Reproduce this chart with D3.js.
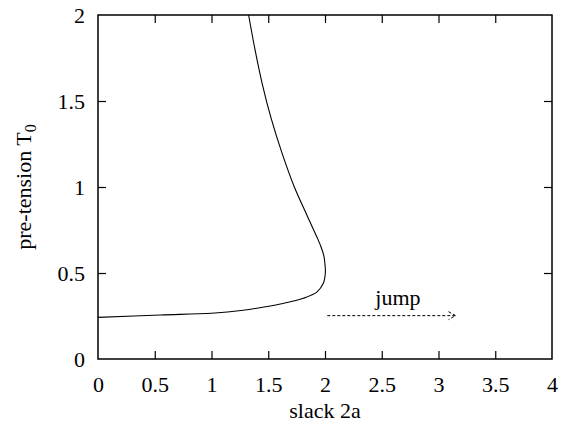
<!DOCTYPE html>
<html>
<head>
<meta charset="utf-8">
<script src="https://cdn.jsdelivr.net/npm/d3@7"></script>
<style>
  body { margin: 0; background: #fff; }
  svg text { font-family: "Liberation Serif", "Times New Roman", "DejaVu Serif", serif !important; fill: #000; }
</style>
</head>
<body>
<div id="wrapper"></div>
<script>
// curve: slack 2a vs pre-tension T0
const slackVals   = [0, 0.55, 1.0, 1.28, 1.40, 1.606, 1.81, 1.93, 1.985, 2.003, 2.0, 1.99, 1.966, 1.935, 1.845, 1.73, 1.62, 1.525, 1.447, 1.383, 1.327]
const tensionVals = [0.242, 0.256, 0.266, 0.283, 0.295, 0.32, 0.353, 0.39, 0.44, 0.50, 0.55, 0.60, 0.65, 0.70, 0.83, 1.0, 1.2, 1.4, 1.6, 1.8, 2.0]

const xTicks = [0, 0.5, 1, 1.5, 2, 2.5, 3, 3.5, 4]
const yTicks = [0, 0.5, 1, 1.5, 2]

// jump arrow
const jumpFrom = [2.02, 0.252]
const jumpTo = [3.15, 0.252]
const jumpLabel = { x: 2.643, y: 0.315, text: "jump" }

const xAxisLabelText = "slack 2a"

/* dimensions */
let dimensions = {
    width: 571,
    height: 431,
    margin: { top: 15, right: 19, bottom: 72, left: 98 },
}
dimensions.boundedWidth = dimensions.width - dimensions.margin.left - dimensions.margin.right
dimensions.boundedHeight = dimensions.height - dimensions.margin.top - dimensions.margin.bottom

const wrapper = d3.select("#wrapper")
    .append("svg")
    .attr("width", dimensions.width)
    .attr("height", dimensions.height)

const bounds = wrapper.append("g")
    .attr("transform", `translate(${dimensions.margin.left},${dimensions.margin.top})`)

/* scales */
const xScale = d3.scaleLinear()
    .domain([0, 4])
    .range([0, dimensions.boundedWidth])

const yScale = d3.scaleLinear()
    .domain([0, 2])
    .range([dimensions.boundedHeight, 0])

/* data */
const points = slackVals.map((s, i) => [s, tensionVals[i]])

const lineGenerator = d3.line()
    .x(d => xScale(d[0]))
    .y(d => yScale(d[1]))
    .curve(d3.curveCatmullRom.alpha(0.5))

bounds.append("path")
    .datum(points)
    .attr("d", lineGenerator)
    .attr("fill", "none")
    .attr("stroke", "#000")
    .attr("stroke-width", 1.1)

// jump arrow (dashed, open head)
const ax1 = xScale(jumpFrom[0]), ay = yScale(jumpFrom[1]), ax2 = xScale(jumpTo[0])
bounds.append("line")
    .attr("x1", ax1).attr("y1", ay)
    .attr("x2", ax2).attr("y2", ay)
    .attr("stroke", "#000")
    .attr("stroke-width", 1)
    .attr("stroke-dasharray", "3,2")
bounds.append("path")
    .attr("d", `M${ax2 - 7},${ay - 4}L${ax2},${ay}L${ax2 - 7},${ay + 4}`)
    .attr("fill", "none")
    .attr("stroke", "#000")
    .attr("stroke-width", 1)
    .attr("stroke-dasharray", "3,2")

bounds.append("text")
    .attr("x", xScale(jumpLabel.x))
    .attr("y", yScale(jumpLabel.y))
    .attr("text-anchor", "middle")
    .style("font-size", "22px")
    .text(jumpLabel.text)

/* axes: ticks inward on all four sides */
const fmt = d => String(d)

const xAxisBottom = bounds.append("g")
    .attr("transform", `translate(0,${dimensions.boundedHeight})`)
    .call(d3.axisBottom(xScale).tickValues(xTicks).tickFormat(fmt).tickSizeInner(-8).tickSizeOuter(0).tickPadding(17))
const xAxisTop = bounds.append("g")
    .call(d3.axisTop(xScale).tickValues(xTicks).tickFormat("").tickSizeInner(-8).tickSizeOuter(0))
const yAxisLeft = bounds.append("g")
    .call(d3.axisLeft(yScale).tickValues(yTicks).tickFormat(fmt).tickSizeInner(-8).tickSizeOuter(0).tickPadding(13))
const yAxisRight = bounds.append("g")
    .attr("transform", `translate(${dimensions.boundedWidth},0)`)
    .call(d3.axisRight(yScale).tickValues(yTicks).tickFormat("").tickSizeInner(-8).tickSizeOuter(0))

bounds.selectAll("g").attr("font-family", null)
bounds.selectAll(".domain").remove()
bounds.selectAll(".tick line").attr("stroke", "#000").attr("stroke-width", 1.2)
bounds.selectAll(".tick text")
    .style("font-size", "22px")
    .attr("fill", "#000")

// hide end ticks that coincide with the frame
xAxisBottom.selectAll(".tick line").filter(d => d === 0 || d === 4).remove()
xAxisTop.selectAll(".tick line").filter(d => d === 0 || d === 4).remove()
yAxisLeft.selectAll(".tick line").filter(d => d === 0 || d === 2).remove()
yAxisRight.selectAll(".tick line").filter(d => d === 0 || d === 2).remove()

// frame
bounds.append("rect")
    .attr("width", dimensions.boundedWidth)
    .attr("height", dimensions.boundedHeight)
    .attr("fill", "none")
    .attr("stroke", "#000")
    .attr("stroke-width", 1.5)

/* labels */
bounds.append("text")
    .attr("x", dimensions.boundedWidth / 2)
    .attr("y", dimensions.boundedHeight + 59)
    .attr("text-anchor", "middle")
    .style("font-size", "22px")
    .text(xAxisLabelText)

const yLabel = bounds.append("text")
    .attr("transform", `translate(${-dimensions.margin.left + 31},${dimensions.boundedHeight / 2}) rotate(-90)`)
    .attr("text-anchor", "middle")
    .style("font-size", "22px")
yLabel.append("tspan").text("pre-tension T")
yLabel.append("tspan").attr("dy", 5).style("font-size", "16px").text("0")
</script>
</body>
</html>
